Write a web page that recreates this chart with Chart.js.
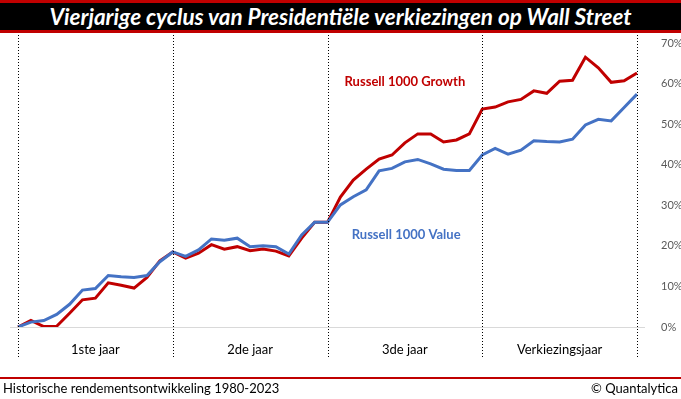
<!DOCTYPE html>
<html>
<head>
    <title>Vierjarige cyclus</title>
    <script src="https://cdn.jsdelivr.net/npm/chart.js"></script>
    <style>
        body { margin: 0; background: #fff; font-family: Lato, "Open Sans", sans-serif; }
        #wrap { position: relative; width: 681px; height: 399px; overflow: hidden; }
        #title {
            position: absolute; left: 0; top: 0; width: 681px; height: 27px;
            background: #000; border-top: 3px solid #c00000; border-bottom: 3px solid #c00000;
            color: #fff; font-weight: bold; font-style: italic; font-size: 22.5px;
            text-align: center; line-height: 27px;
        }
        #footer-line { position: absolute; left: 0; top: 377px; width: 681px; height: 2px; background: #c00000; }
        .foot { position: absolute; top: 380px; font-size: 13px; color: #000; }
        #chart-box { position: absolute; left: 0; top: 0; width: 681px; height: 399px; }
    </style>
</head>
<body>
<div id="wrap">
    <div id="chart-box"><canvas id="myChart" width="681" height="399"></canvas></div>
    <div id="title">Vierjarige cyclus van Presidentiële verkiezingen op Wall Street</div>
    <div id="footer-line"></div>
    <div class="foot" style="left:3px;">Historische rendementsontwikkeling 1980-2023</div>
    <div class="foot" style="right:3px;">© Quantalytica</div>
</div>

<script>
    // one point per month, 4 years
    const months = Array.from({ length: 49 }, (_, i) => i);
    const yearLabels = ['1ste jaar', '2de jaar', '3de jaar', 'Verkiezingsjaar'];

    const growth = [
        0, 1.6, 0.1, 0.2, 3.4, 6.7, 7.1, 10.9, 10.3, 9.6, 12.2, 16.3,
        18.5, 17.0, 18.2, 20.3, 19.2, 19.8, 18.8, 19.2, 18.7, 17.5, 21.9, 25.8,
        25.8, 32.0, 36.2, 38.9, 41.4, 42.4, 45.4, 47.6, 47.6, 45.6, 46.1, 47.6,
        53.7, 54.2, 55.5, 56.1, 58.2, 57.6, 60.6, 60.8, 66.5, 63.9, 60.3, 60.7,
        62.6
    ];
    const value = [
        0, 1.2, 1.6, 3.1, 5.6, 9.1, 9.5, 12.7, 12.4, 12.2, 12.7, 16.1,
        18.5, 17.4, 19.0, 21.7, 21.4, 21.9, 19.8, 20.0, 19.8, 18.0, 22.7, 25.8,
        25.8, 30.1, 32.1, 33.8, 38.5, 39.1, 40.7, 41.3, 40.2, 38.9, 38.6, 38.6,
        42.4, 44.0, 42.6, 43.6, 45.9, 45.7, 45.6, 46.3, 49.8, 51.2, 50.8, 54.1,
        57.4
    ];

    const red = '#c00000';
    const blue = '#4472c4';

    const extras = {
        id: 'extras',
        afterDraw(chart) {
            const c = chart.ctx;
            const xs = chart.scales.x;
            const ys = chart.scales.y;
            c.save();
            // baseline 0%
            c.strokeStyle = '#d9d9d9';
            c.lineWidth = 1;
            c.beginPath();
            c.moveTo(10, Math.round(ys.getPixelForValue(0)) + 0.5);
            c.lineTo(645, Math.round(ys.getPixelForValue(0)) + 0.5);
            c.stroke();
            // year separators
            c.strokeStyle = '#000';
            c.setLineDash([1, 2]);
            [0, 12, 24, 36, 48].forEach(i => {
                const x = Math.round(xs.getPixelForValue(i)) + 0.5;
                c.beginPath();
                c.moveTo(x, 35);
                c.lineTo(x, 358);
                c.stroke();
            });
            c.setLineDash([]);
            // year labels
            c.fillStyle = '#000';
            c.font = '13px Lato';
            c.textAlign = 'center';
            c.textBaseline = 'middle';
            yearLabels.forEach((t, k) => {
                c.fillText(t, xs.getPixelForValue(k * 12 + 6), 350);
            });
            // series labels
            c.font = 'bold 13px Lato';
            c.fillStyle = red;
            c.fillText('Russell 1000 Growth', xs.getPixelForValue(30), ys.getPixelForValue(60.4));
            c.fillStyle = blue;
            c.fillText('Russell 1000 Value', xs.getPixelForValue(30.1), ys.getPixelForValue(22.7));
            c.restore();
        }
    };

    const ctx = document.getElementById('myChart').getContext('2d');
    const chart = new Chart(ctx, {
        type: 'line',
        data: {
            labels: months,
            datasets: [{
                label: 'Russell 1000 Value',
                data: value,
                borderColor: blue,
                borderWidth: 3,
                pointRadius: 0,
                tension: 0,
                fill: false
            }, {
                label: 'Russell 1000 Growth',
                data: growth,
                borderColor: red,
                borderWidth: 3,
                pointRadius: 0,
                tension: 0,
                fill: false
            }]
        },
        options: {
            responsive: false,
            animation: false,
            layout: { padding: { left: 18, right: 0, top: 43, bottom: 72 } },
            plugins: { legend: { display: false }, tooltip: { enabled: false } },
            scales: {
                x: { display: false },
                y: {
                    position: 'right',
                    min: 0,
                    max: 70,
                    afterFit(scale) { scale.width = 44; },
                    ticks: {
                        stepSize: 10,
                        padding: 16,
                        color: '#595959',
                        font: { family: 'Lato', size: 11 },
                        callback: v => v + '%'
                    },
                    grid: { display: false },
                    border: { display: false }
                }
            }
        },
        plugins: [extras]
    });
</script>
</body>
</html>
